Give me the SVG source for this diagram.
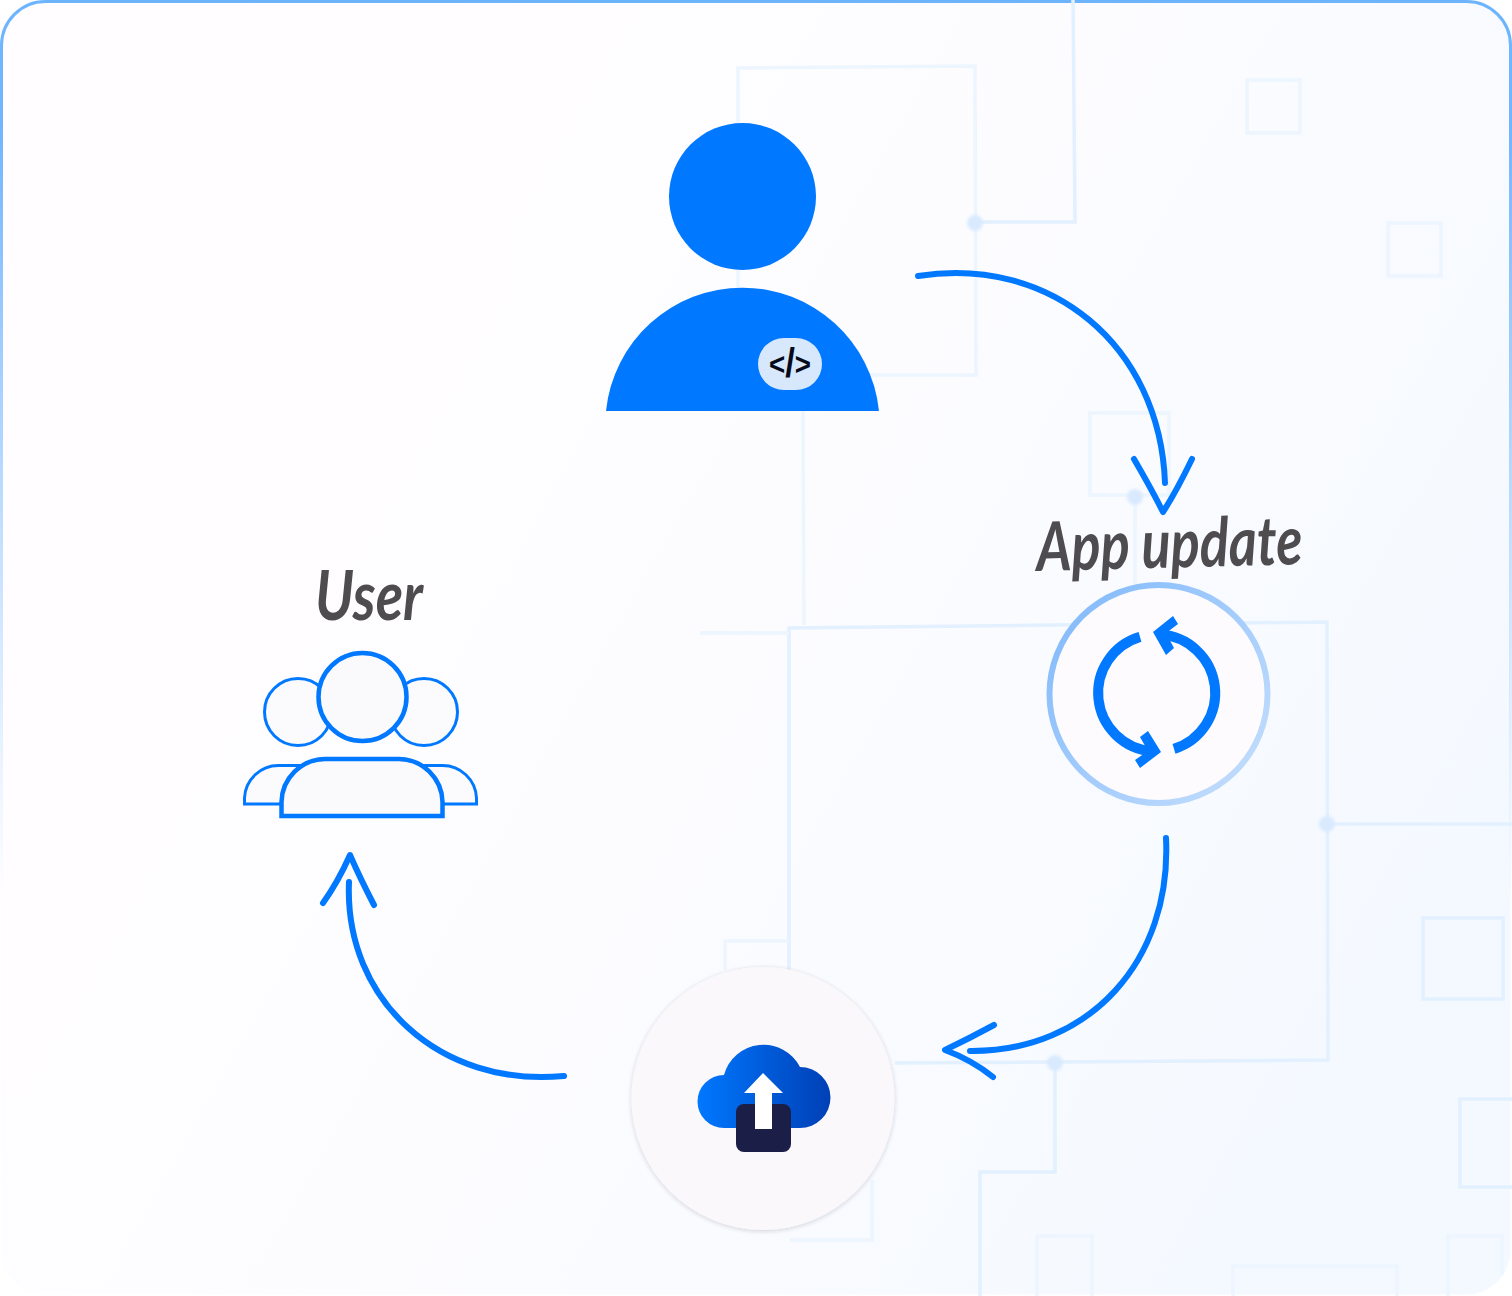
<svg xmlns="http://www.w3.org/2000/svg" width="1512" height="1296" viewBox="0 0 1512 1296">
<style>
.trace{fill:none;stroke:#e2f0ff;stroke-width:3.5}
.faint{stroke:#edf5ff}
.dot{fill:#d9eaff}
.blue{fill:#0078ff}
.conn{fill:none;stroke:#0078ff;stroke-width:6;stroke-linecap:round;stroke-linejoin:round}
.label{font-family:"Lato","Open Sans",sans-serif;font-style:italic;font-weight:700;fill:#4f4c50}
.line1{fill:#fbfafc;stroke:#0078ff;stroke-width:3}
.line2{fill:#fafafc;stroke:#0078ff;stroke-width:4.5}
</style>
<defs>
<linearGradient id="bg" gradientUnits="userSpaceOnUse" x1="250" y1="350" x2="1400" y2="1000">
<stop offset="0" stop-color="#fffdff"/><stop offset="0.45" stop-color="#fcfcff"/><stop offset="1" stop-color="#f4f9ff"/>
</linearGradient>
<linearGradient id="edge" gradientUnits="userSpaceOnUse" x1="0" y1="0" x2="0" y2="900">
<stop offset="0" stop-color="#6db4ff"/><stop offset="0.15" stop-color="#72b6ff"/><stop offset="1" stop-color="#8cc4ff" stop-opacity="0"/>
</linearGradient>
<linearGradient id="ring" gradientUnits="userSpaceOnUse" x1="1060" y1="620" x2="1250" y2="780">
<stop offset="0" stop-color="#86bcfb"/><stop offset="1" stop-color="#c1dcfd"/>
</linearGradient>
<linearGradient id="cloud" gradientUnits="userSpaceOnUse" x1="697" y1="1090" x2="830" y2="1090">
<stop offset="0" stop-color="#0078ff"/><stop offset="1" stop-color="#0040b6"/>
</linearGradient>
<filter id="soft" x="-30%" y="-30%" width="160%" height="160%"><feGaussianBlur stdDeviation="1.5"/></filter>
<filter id="shadow" x="-10%" y="-10%" width="120%" height="120%"><feDropShadow dx="0" dy="1" stdDeviation="2" flood-color="#30304a" flood-opacity="0.22"/></filter>
</defs>

<rect id="panel" x="1.5" y="1.5" width="1509" height="1293" rx="44" fill="url(#bg)" stroke="url(#edge)" stroke-width="3"/>

<g id="background-traces">
<path class="trace faint" d="M850 375H976L975 66L738 68V125M738 270V290"/>
<path class="trace" d="M1073 0L1075 222H975"/>
<path class="trace faint" d="M803 411L804 625"/>
<path class="trace" d="M789 970V628L1327 622L1328 1060L895 1063"/>
<path class="trace faint" d="M700 633H789"/>
<path class="trace faint" d="M725 970V941H789"/>
<path class="trace faint" d="M1090 413H1169V495H1090Z"/>
<path class="trace faint" d="M1135 497V625"/>
<path class="trace" d="M1327 824H1512"/>
<path class="trace faint" d="M1247 80H1300V133H1247Z"/>
<path class="trace faint" d="M1388 223H1441V276H1388Z"/>
<path class="trace" d="M1423 918H1503V999H1423Z"/>
<path class="trace" d="M1512 1099H1460V1187H1512"/>
<path class="trace" d="M1055 1063V1172H980V1296"/>
<path class="trace faint" d="M1037 1296V1236H1092V1296"/>
<path class="trace faint" d="M1233 1296V1266H1397V1296"/>
<path class="trace faint" d="M1448 1296V1236H1502V1275"/>
<path class="trace faint" d="M872 1180V1240H790"/>
<g filter="url(#soft)">
<circle class="dot" cx="975" cy="223" r="8"/>
<circle class="dot" cx="1135" cy="497" r="8"/>
<circle class="dot" cx="1327" cy="824" r="8"/>
<circle class="dot" cx="1055" cy="1063" r="8"/>
</g>
</g>

<g id="developer">
<circle class="blue" cx="742.5" cy="196.5" r="73.5"/>
<path class="blue" d="M606 411A137.2 137.2 0 0 1 879 411Z"/>
<rect x="758" y="338" width="64" height="52" rx="26" fill="#d7e8fd"/>
<text x="790" y="374.500" text-anchor="middle" font-family="'Liberation Sans',sans-serif" font-weight="700" font-size="32" textLength="42" lengthAdjust="spacingAndGlyphs" fill="#050a1a">&lt;<tspan font-size="40" dy="2.500">/</tspan><tspan dy="-2.500">&gt;</tspan></text>
</g>

<g id="app-update">
<text class="label" x="1037" y="571" font-size="68" textLength="266" lengthAdjust="spacingAndGlyphs" transform="rotate(-1.5 1037 571)">App update</text>
<circle cx="1158.5" cy="694" r="109" fill="#fdfbfd" stroke="url(#ring)" stroke-width="6"/>
<path d="M1140 636.900A58.500 58.500 0 0 0 1152 751.300" fill="none" stroke="#0078ff" stroke-width="10"/>
<path d="M1174 748.900A58.500 58.500 0 0 0 1160 634.600" fill="none" stroke="#0078ff" stroke-width="10"/>
<path class="blue" d="M1153 632L1173 616L1178 624L1166 633L1174 648L1166 655Z"/>
<path class="blue" d="M1161 752L1148 731L1140 737L1148 751L1135 760L1140 768Z"/>
</g>

<g id="cloud-upload">
<circle cx="763" cy="1098.500" r="131.500" fill="#fbf8fb" filter="url(#shadow)"/>
<path d="M724 1128A26.500 26.500 0 0 1 724 1075A41 41 0 0 1 800 1067A30.500 30.500 0 0 1 800 1128Z" fill="url(#cloud)"/>
<rect x="736" y="1104" width="55" height="48" rx="8" fill="#1b1e47"/>
<path d="M763 1073L783 1093H772V1129H755V1093H744Z" fill="#ffffff"/>
</g>

<g id="user">
<text class="label" x="315" y="620" font-size="68" textLength="108" lengthAdjust="spacingAndGlyphs">User</text>
<circle class="line1" cx="298" cy="712" r="33.500"/>
<circle class="line1" cx="424" cy="712" r="33.500"/>
<path class="line1" d="M244.500 804V798A34 34 0 0 1 279 765.500H442A34 34 0 0 1 476.500 798V804Z"/>
<circle class="line2" cx="362.500" cy="697" r="44"/>
<path class="line2" d="M281.500 816V802A44 44 0 0 1 325 759H399A44 44 0 0 1 442.500 802V816Z"/>
</g>

<g id="connectors">
<path class="conn" d="M918 276C1050 255 1160 345 1165 483"/>
<path class="conn" d="M1134 459Q1152 490 1163 512Q1176 492 1192 459"/>
<path class="conn" d="M1166 838C1172 960 1090 1052 970 1051"/>
<path class="conn" d="M994 1025Q970 1038 945 1050Q972 1060 993 1077"/>
<path class="conn" d="M564 1076C440 1088 344 1000 349 882"/>
<path class="conn" d="M323 903Q338 882 350 855Q360 878 374 905"/>
</g>
</svg>
